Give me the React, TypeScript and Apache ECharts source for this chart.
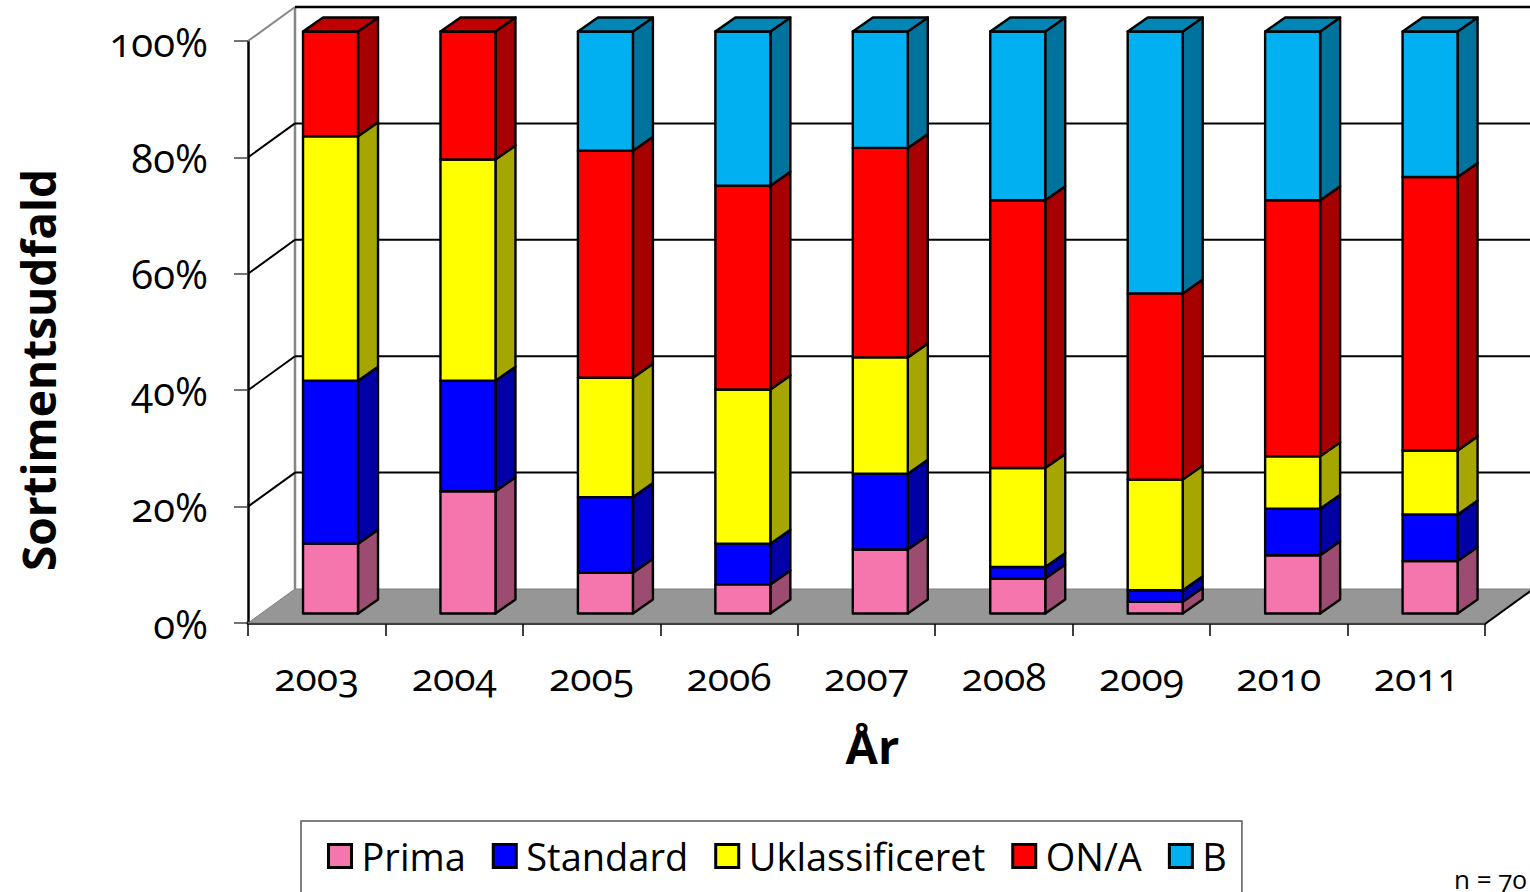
import React, { useEffect, useRef } from "react";
import * as echarts from "echarts";

const years = ["2003", "2004", "2005", "2006", "2007", "2008", "2009", "2010", "2011"];
const prima = [12, 21, 7, 5, 11, 6, 2, 10, 9];
const standard = [28, 19, 13, 7, 13, 2, 2, 8, 8];
const uklassificeret = [42, 38, 20.5, 26.5, 20, 17, 19, 9, 11];
const onA = [18, 22, 39, 35, 36, 46, 32, 44, 47];
const b = [0, 0, 20.5, 26.5, 20, 29, 45, 29, 25];
const yTicks = [0, 20, 40, 60, 80, 100];

const FONT = '"Open Sans", sans-serif';
const DX = 47, DY = -34; // wall depth
const BAR_W = 55, BAR_OFF_X = 13.8, BAR_OFF_Y = -9.5, SIDE_X = 20, SIDE_Y = -14;

const seriesDefs = [
  { name: "Prima", values: prima, color: "#F575AD", side: "#9C4C70", top: "#B85A84" },
  { name: "Standard", values: standard, color: "#0000FF", side: "#0000A6", top: "#0000C0" },
  { name: "Uklassificeret", values: uklassificeret, color: "#FFFF00", side: "#A6A600", top: "#C0C000" },
  { name: "ON/A", values: onA, color: "#FF0000", side: "#A60000", top: "#C00000" },
  { name: "B", values: b, color: "#00B0F0", side: "#00739C", top: "#0085B5" },
];

export default function App() {
  const ref = useRef<HTMLDivElement>(null);
  useEffect(() => {
    const chart = echarts.init(ref.current!, null, { renderer: "svg" });
    const cum = years.map(() => 0);
    const barSeries = seriesDefs.map((def) => {
      const data = def.values.map((v, i) => {
        const lo = cum[i];
        cum[i] += v;
        return [i, lo, cum[i]];
      });
      return {
        type: "custom",
        name: def.name,
        z: 5,
        clip: false,
        itemStyle: { color: def.color },
        encode: { x: 0, y: [1, 2] },
        data,
        renderItem: (_p: any, api: any) => {
          const i = api.value(0), lo = api.value(1), hi = api.value(2);
          if (hi - lo <= 0) return { type: "group", children: [] };
          const a = api.coord([i, lo]);
          const c = api.coord([i, hi]);
          const x0 = a[0] + BAR_OFF_X - BAR_W / 2;
          const x1 = x0 + BAR_W;
          const y0 = a[1] + BAR_OFF_Y;
          const y1 = c[1] + BAR_OFF_Y;
          const line = { stroke: "#000", lineWidth: 2.4, lineJoin: "round" };
          const children: any[] = [
            { type: "polygon", shape: { points: [[x1, y0], [x1 + SIDE_X, y0 + SIDE_Y], [x1 + SIDE_X, y1 + SIDE_Y], [x1, y1]] }, style: { fill: def.side, ...line } },
            { type: "rect", shape: { x: x0, y: y1, width: BAR_W, height: y0 - y1 }, style: { fill: def.color, ...line } },
          ];
          if (Math.abs(hi - 100) < 0.01) {
            children.push({ type: "polygon", shape: { points: [[x0, y1], [x0 + SIDE_X, y1 + SIDE_Y], [x1 + SIDE_X, y1 + SIDE_Y], [x1, y1]] }, style: { fill: def.top, ...line } });
          }
          return { type: "group", children };
        },
      };
    });

    const wallSeries = {
      type: "custom",
      name: "wall",
      z: 1,
      clip: false,
      silent: true,
      data: yTicks.map((t) => [0, t]),
      encode: { x: 0, y: 1 },
      renderItem: (p: any, api: any) => {
        const t = api.value(1);
        const cs = p.coordSys;
        const y = api.coord([0, t])[1];
        const L = cs.x, R = cs.x + cs.width;
        if (t === 0) {
          return {
            type: "group",
            children: [
              { type: "polygon", shape: { points: [[L, y], [L + DX, y + DY], [R + DX, y + DY], [R, y]] }, style: { fill: "#969696", stroke: "#7f7f7f", lineWidth: 1 } },
              { type: "line", shape: { x1: L + DX, y1: y + DY, x2: L + DX, y2: cs.y + DY }, style: { stroke: "#868686", lineWidth: 2.5 } },
              { type: "line", shape: { x1: R, y1: y + 1, x2: R + DX, y2: y + DY + 1 }, style: { stroke: "#000", lineWidth: 2 } },
            ],
          };
        }
        const top = t === 100;
        return {
          type: "group",
          children: [
            { type: "line", shape: { x1: L, y1: y, x2: L + DX, y2: y + DY }, style: { stroke: top ? "#868686" : "#000", lineWidth: 2 } },
            { type: "line", shape: { x1: L + DX, y1: y + DY, x2: R + DX, y2: y + DY }, style: { stroke: "#000", lineWidth: top ? 2.5 : 2 } },
          ],
        };
      },
    };

    chart.setOption({
      animation: false,
      textStyle: { fontFamily: FONT },
      grid: { left: 248, top: 41, width: 1237, height: 582, containLabel: false, outerBoundsMode: "none" },
      xAxis: {
        type: "category",
        data: years,
        name: "År",
        nameLocation: "middle",
        nameGap: 99,
        nameTextStyle: { fontSize: 47, fontWeight: "bold", color: "#000", fontFamily: FONT, padding: [0, 0, 0, 12] },
        axisLine: { show: true, lineStyle: { color: "#000", width: 3.5 } },
        axisTick: { show: true, length: 13, lineStyle: { color: "#000", width: 1.5 } },
        axisLabel: { color: "#000", fontSize: 39, margin: 33, fontFamily: FONT },
      },
      yAxis: {
        type: "value",
        min: 0,
        max: 100,
        interval: 20,
        name: "Sortimentsudfald",
        nameLocation: "middle",
        nameGap: 187,
        nameRotate: 90,
        nameTextStyle: { fontSize: 46, fontWeight: "bold", color: "#000", fontFamily: FONT, padding: [0, 76, 0, 0] },
        splitLine: { show: false },
        axisLine: { show: true, lineStyle: { color: "#000", width: 2.5 } },
        axisTick: { show: true, length: 14, lineStyle: { color: "#444", width: 1.5 } },
        axisLabel: { color: "#000", fontSize: 40, margin: 40, padding: [3, 0, 0, 0], formatter: (v: number) => v + "%", fontFamily: FONT },
      },
      legend: {
        left: 301,
        top: 821,
        padding: [16, 15, 40, 26],
        backgroundColor: "#fff",
        borderColor: "#555",
        borderWidth: 1.5,
        itemWidth: 23,
        itemHeight: 23,
        itemGap: 26,
        icon: "rect",
        textStyle: { fontSize: 38, color: "#000", fontFamily: FONT, padding: [0, 0, 0, 5] },
        data: seriesDefs.map((d) => ({
          name: d.name,
          itemStyle: { color: d.color, borderColor: "#000", borderWidth: 3 },
        })),
      },
      graphic: [
        { type: "text", right: 2, top: 866, style: { text: "n = 70", fontSize: 26, fontFamily: FONT, fill: "#000" } },
      ],
      series: [wallSeries, ...barSeries],
    } as any);
    return () => chart.dispose();
  }, []);
  return (
    <div
      ref={ref}
      style={{
        position: "fixed",
        left: 0,
        top: 0,
        width: 1530,
        height: 892,
        background: "#fff",
        fontVariantNumeric: "oldstyle-nums",
        fontFeatureSettings: '"onum"',
      }}
    />
  );
}
